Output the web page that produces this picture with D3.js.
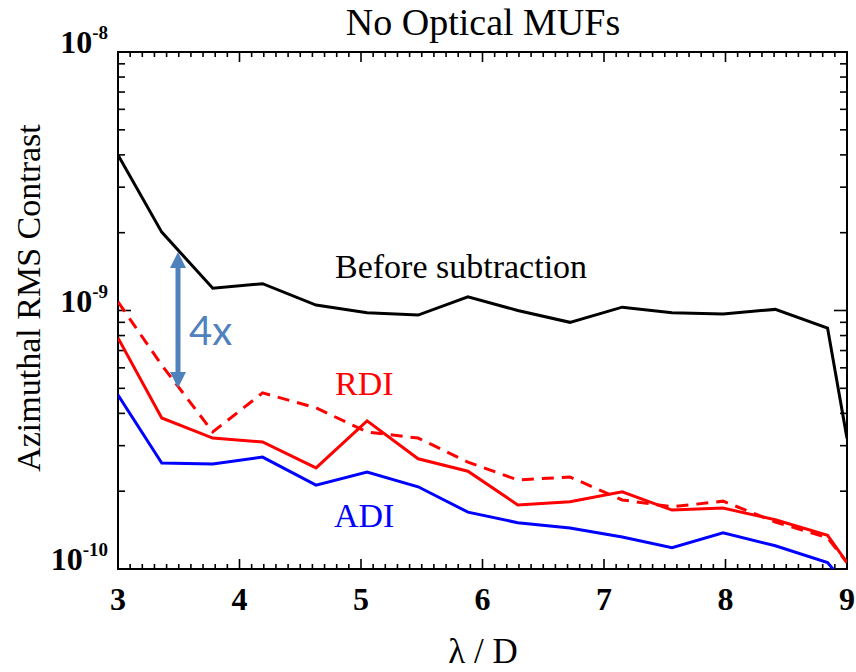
<!DOCTYPE html>
<html>
<head>
<meta charset="utf-8">
<script src="https://cdn.jsdelivr.net/npm/d3@7"></script>
<style>
  html, body { margin: 0; padding: 0; background: #fff; }
  svg { display: block; }
</style>
</head>
<body>
<script>
// Separation in lambda/D
const sep = [3.0, 3.36, 3.78, 4.19, 4.63, 5.05, 5.47, 5.88, 6.29, 6.72, 7.15, 7.56, 7.98, 8.41, 8.84, 9.0];
// Azimuthal RMS contrast
const before = [4.0e-9, 2.01e-9, 1.22e-9, 1.27e-9, 1.05e-9, 0.98e-9, 0.96e-9, 1.13e-9, 1.0e-9, 0.90e-9, 1.03e-9, 0.98e-9, 0.97e-9, 1.01e-9, 0.855e-9, 3.2e-10];
const rdi = [7.83e-10, 3.84e-10, 3.21e-10, 3.10e-10, 2.46e-10, 3.74e-10, 2.67e-10, 2.39e-10, 1.77e-10, 1.82e-10, 1.99e-10, 1.69e-10, 1.72e-10, 1.55e-10, 1.35e-10, 1.06e-10];
const rdiAlt = [1.08e-9, 6.15e-10, 3.39e-10, 4.80e-10, 4.20e-10, 3.39e-10, 3.21e-10, 2.59e-10, 2.21e-10, 2.27e-10, 1.85e-10, 1.74e-10, 1.83e-10, 1.52e-10, 1.32e-10, 1.06e-10];
const adi = [4.71e-10, 2.57e-10, 2.55e-10, 2.71e-10, 2.11e-10, 2.37e-10, 2.08e-10, 1.66e-10, 1.51e-10, 1.44e-10, 1.33e-10, 1.21e-10, 1.38e-10, 1.23e-10, 1.06e-10, 8.6e-11];
const xTicks = [3, 4, 5, 6, 7, 8, 9];
const yTicks = [1e-10, 1e-9, 1e-8];
const yTickExp = ["-10", "-9", "-8"];

const W = 856, H = 672;
const m = { left: 118, right: 9, top: 52, bottom: 103 };
const iw = W - m.left - m.right, ih = H - m.top - m.bottom;

const svg = d3.select("body").append("svg").attr("width", W).attr("height", H);
const x = d3.scaleLinear().domain([3, 9]).range([m.left, m.left + iw]);
const y = d3.scaleLog().domain([1e-10, 1e-8]).range([m.top + ih, m.top]);

const serif = "'Liberation Serif', 'Times New Roman', serif";

svg.append("defs").append("clipPath").attr("id", "plot")
  .append("rect").attr("x", m.left).attr("y", m.top).attr("width", iw).attr("height", ih);

// Minor tick values
const xMinor = d3.range(30, 91).map(v => v / 10).filter(v => Math.abs(v - Math.round(v)) > 1e-6);
const yMinor = [];
[-10, -9].forEach(e => { for (let k = 2; k <= 9; k++) yMinor.push(k * Math.pow(10, e)); });

const axisG = svg.append("g").attr("stroke", "#000").attr("stroke-width", 1.6);
// Bottom/top ticks (inward)
xTicks.forEach(v => {
  axisG.append("line").attr("x1", x(v)).attr("x2", x(v)).attr("y1", m.top + ih).attr("y2", m.top + ih - 10);
  axisG.append("line").attr("x1", x(v)).attr("x2", x(v)).attr("y1", m.top).attr("y2", m.top + 10);
});
xMinor.forEach(v => {
  axisG.append("line").attr("x1", x(v)).attr("x2", x(v)).attr("y1", m.top + ih).attr("y2", m.top + ih - 5);
  axisG.append("line").attr("x1", x(v)).attr("x2", x(v)).attr("y1", m.top).attr("y2", m.top + 5);
});
// Left/right ticks (inward)
yTicks.forEach(v => {
  axisG.append("line").attr("x1", m.left).attr("x2", m.left + 13).attr("y1", y(v)).attr("y2", y(v));
  axisG.append("line").attr("x1", m.left + iw).attr("x2", m.left + iw - 13).attr("y1", y(v)).attr("y2", y(v));
});
yMinor.forEach(v => {
  axisG.append("line").attr("x1", m.left).attr("x2", m.left + 7).attr("y1", y(v)).attr("y2", y(v));
  axisG.append("line").attr("x1", m.left + iw).attr("x2", m.left + iw - 7).attr("y1", y(v)).attr("y2", y(v));
});
// Frame
svg.append("rect").attr("x", m.left).attr("y", m.top).attr("width", iw).attr("height", ih)
  .attr("fill", "none").attr("stroke", "#000").attr("stroke-width", 2);

// X tick labels
svg.append("g").selectAll("text").data(xTicks).join("text")
  .attr("x", d => x(d)).attr("y", 610)
  .attr("text-anchor", "middle")
  .attr("font-family", serif).attr("font-weight", "bold").attr("font-size", 32)
  .text(d => d);

// Y tick labels: 10 with superscript exponent
const yl = svg.append("g").selectAll("text").data(yTicks).join("text")
  .attr("x", m.left - 10).attr("y", (d, i) => y(d) + 1)
  .attr("text-anchor", "end")
  .attr("font-family", serif).attr("font-weight", "bold").attr("font-size", 32);
yl.append("tspan").text("10");
yl.append("tspan").attr("dy", -14).attr("font-size", 19).text((d, i) => yTickExp[i]);

// Titles
svg.append("text").attr("x", 483).attr("y", 35).attr("text-anchor", "middle")
  .attr("font-family", serif).attr("font-size", 38).text("No Optical MUFs");
svg.append("text").attr("x", 483).attr("y", 663).attr("text-anchor", "middle")
  .attr("font-family", serif).attr("font-size", 35).text("λ / D");
svg.append("text").attr("transform", `translate(40,298) rotate(-90)`)
  .attr("text-anchor", "middle")
  .attr("font-family", serif).attr("font-size", 34).text("Azimuthal RMS Contrast");

// Curves
const line = d3.line().x((d, i) => x(sep[i])).y(d => y(d));
const plot = svg.append("g").attr("clip-path", "url(#plot)").attr("fill", "none").attr("stroke-width", 3);
plot.append("path").datum(before).attr("d", line).attr("stroke", "#000");
plot.append("path").datum(rdiAlt).attr("d", line).attr("stroke", "#ff0000").attr("stroke-dasharray", "12,8");
plot.append("path").datum(rdi).attr("d", line).attr("stroke", "#ff0000");
plot.append("path").datum(adi).attr("d", line).attr("stroke", "#0000ff");

// Curve labels
svg.append("text").attr("x", 335).attr("y", 278).attr("font-family", serif).attr("font-size", 34)
  .attr("fill", "#000").text("Before subtraction");
svg.append("text").attr("x", 335).attr("y", 395).attr("font-family", serif).attr("font-size", 34)
  .attr("fill", "#ff0000").text("RDI");
svg.append("text").attr("x", 334).attr("y", 527).attr("font-family", serif).attr("font-size", 34)
  .attr("fill", "#0000ff").text("ADI");

// 4x improvement arrow
const arrowCol = "#4f81bd";
const ax = 178, ay1 = 252, ay2 = 388;
svg.append("line").attr("x1", ax).attr("x2", ax).attr("y1", ay1 + 12).attr("y2", ay2 - 12)
  .attr("stroke", arrowCol).attr("stroke-width", 5);
svg.append("path").attr("d", `M${ax},${ay1} L${ax - 8},${ay1 + 16} L${ax + 8},${ay1 + 16} Z`).attr("fill", arrowCol);
svg.append("path").attr("d", `M${ax},${ay2} L${ax - 8},${ay2 - 16} L${ax + 8},${ay2 - 16} Z`).attr("fill", arrowCol);
svg.append("text").attr("x", 189).attr("y", 345).attr("font-family", "Lato, 'Open Sans', sans-serif")
  .attr("font-size", 40).attr("fill", arrowCol).text("4x");
</script>
</body>
</html>
